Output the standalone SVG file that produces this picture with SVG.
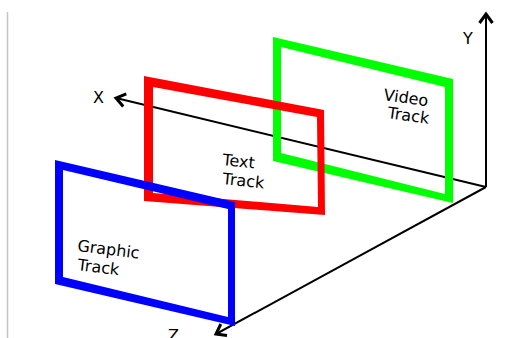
<svg xmlns="http://www.w3.org/2000/svg" width="527" height="338" viewBox="0 0 527 338">
  <style>
    .axis { stroke: #000; stroke-width: 2; fill: none; }
    .lbl { font-family: "DejaVu Sans", Verdana, sans-serif; font-size: 16px; fill: #000; }
    .frame { fill-rule: evenodd; stroke: none; }
  </style>
  <defs>
    <marker id="arr" markerUnits="userSpaceOnUse" markerWidth="24" markerHeight="24" viewBox="-12 -12 24 24" refX="0" refY="0" orient="auto" overflow="visible">
      <path d="M-9,-6.5 L0,0 L-9,6.5" fill="none" stroke="#000" stroke-width="3" stroke-linejoin="miter"/>
    </marker>
  </defs>
  <rect x="0" y="0" width="527" height="338" fill="#fff"/>
  <line x1="7.5" y1="12" x2="7.5" y2="338" stroke="#c4c4c4" stroke-width="1.5"/>
  <g id="connectors">
    <line id="x-axis" class="axis" x1="486" y1="187" x2="116" y2="98" marker-end="url(#arr)"/>
    <line id="y-axis" class="axis" x1="486" y1="187" x2="486" y2="14" marker-end="url(#arr)"/>
    <line id="z-axis" class="axis" x1="486" y1="187" x2="216" y2="334" marker-end="url(#arr)"/>
  </g>
  <g id="video-track">
    <path class="frame" fill="#00ff00" d="M273,37 L453,79 L453,203 L273,161 Z M281,47 L445,87 L445,194 L281,153 Z"/>
    <text class="lbl" transform="translate(383,100) rotate(8)">Video</text>
    <text class="lbl" transform="translate(387,118) rotate(8)">Track</text>
  </g>
  <g id="text-track">
    <path class="frame" fill="#ff0000" d="M144,76 L324,110 L325,215 L144,201 Z M153,87 L317,117 L318,207 L153,193 Z"/>
    <text class="lbl" transform="translate(222,165) rotate(6)">Text</text>
    <text class="lbl" transform="translate(222,184) rotate(6)">Track</text>
  </g>
  <g id="graphic-track">
    <path class="frame" fill="#0000ff" d="M55,160 L235,202 L235,326 L55,284 Z M63,170 L228,209 L228,317 L63,277 Z"/>
    <text class="lbl" transform="translate(77,251) rotate(7)">Graphic</text>
    <text class="lbl" transform="translate(77,270) rotate(7)">Track</text>
  </g>
  <g id="axis-labels">
    <text class="lbl" x="93" y="103">X</text>
    <text class="lbl" x="463" y="44">Y</text>
    <text class="lbl" x="168" y="341">Z</text>
  </g>
</svg>
